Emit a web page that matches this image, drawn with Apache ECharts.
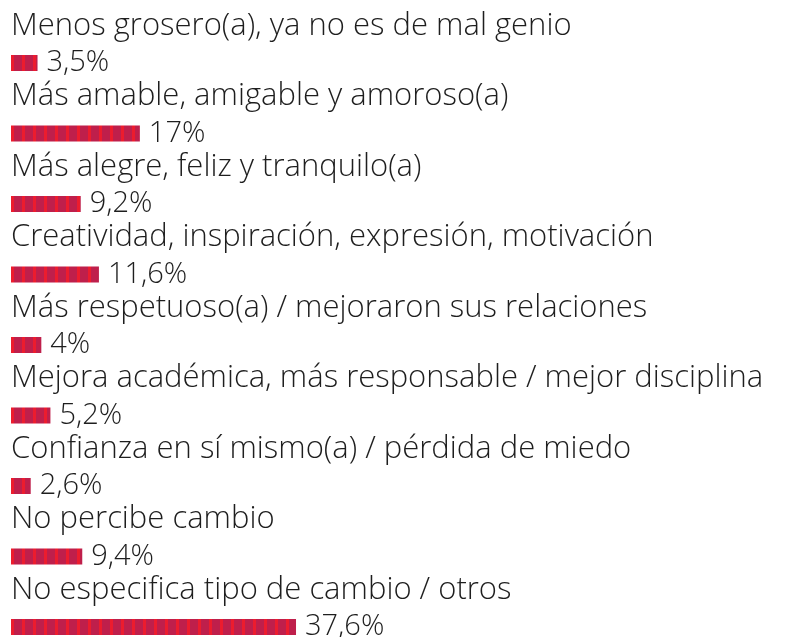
<!DOCTYPE html>
<html>
<head>
<meta charset="utf-8">
<script src="https://cdn.jsdelivr.net/npm/echarts@6/dist/echarts.min.js"></script>
<style>
  html, body { margin: 0; padding: 0; background: #ffffff; }
  #chart { width: 791px; height: 637px; }
</style>
</head>
<body>
<div id="chart"></div>
<script>
// Categories, top to bottom
const categories = [
  'Menos grosero(a), ya no es de mal genio',
  'Más amable, amigable y amoroso(a)',
  'Más alegre, feliz y tranquilo(a)',
  'Creatividad, inspiración, expresión, motivación',
  'Más respetuoso(a) / mejoraron sus relaciones',
  'Mejora académica, más responsable / mejor disciplina',
  'Confianza en sí mismo(a) / pérdida de miedo',
  'No percibe cambio',
  'No especifica tipo de cambio / otros'
];

// Share of responses, percent
const values = [3.5, 17, 9.2, 11.6, 4, 5.2, 2.6, 9.4, 37.6];

// Striped fill: thin bright red line followed by a wider crimson block
const stripe = document.createElement('canvas');
stripe.width = 11;
stripe.height = 16;
const sctx = stripe.getContext('2d');
sctx.fillStyle = '#bf1f4b';
sctx.fillRect(0, 0, 11, 16);
sctx.fillStyle = '#ec1c2e';
sctx.fillRect(0, 0, 3, 16);

const fontFamily = '"Open Sans", "DejaVu Sans", sans-serif';
const textColor = '#1e1e1e';

const chart = echarts.init(document.getElementById('chart'), null, { renderer: 'canvas' });

chart.setOption({
  animation: false,
  backgroundColor: '#ffffff',
  // Category centres run from the first bar row to the last one
  grid: { left: 11, top: 63, width: 758, height: 564, containLabel: false },
  xAxis: { type: 'value', min: 0, max: 100, show: false },
  yAxis: {
    type: 'category',
    data: categories,
    inverse: true,
    boundaryGap: false,
    show: false
  },
  series: [{
    type: 'bar',
    data: values,
    barWidth: 16,
    itemStyle: { color: { image: stripe, repeat: 'repeat' } },
    label: {
      show: true,
      position: 'right',
      distance: 9,
      color: textColor,
      fontFamily: fontFamily,
      fontWeight: 300,
      fontSize: 29,
      formatter: p => String(p.value).replace('.', ',') + '%'
    }
  }, {
    // Category names sit above each bar
    type: 'bar',
    data: values.map(() => 0),
    barWidth: 16,
    barGap: '-100%',
    silent: true,
    itemStyle: { color: 'transparent' },
    label: {
      show: true,
      position: [0, -29],
      color: textColor,
      fontFamily: fontFamily,
      fontWeight: 300,
      fontSize: 31,
      align: 'left',
      verticalAlign: 'middle',
      formatter: p => categories[p.dataIndex]
    }
  }]
});
</script>
</body>
</html>
